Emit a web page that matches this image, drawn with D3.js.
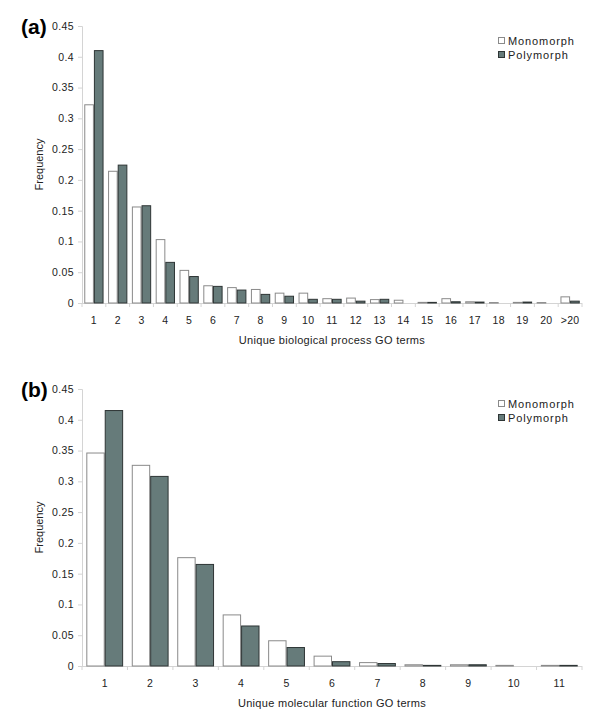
<!DOCTYPE html>
<html>
<head>
<meta charset="utf-8">
<script src="https://cdn.jsdelivr.net/npm/d3@7"></script>
<style>
  html, body { margin: 0; padding: 0; background: #fff; }
  svg { display: block; font-family: "Liberation Sans", Arial, Helvetica, sans-serif; }
</style>
</head>
<body>
<svg id="chart" width="600" height="726"></svg>
<script>
// ---- Data ----
const seriesNames = ["Monomorph", "Polymorph"];
const yTicks = [0, 0.05, 0.1, 0.15, 0.2, 0.25, 0.3, 0.35, 0.4, 0.45];

const bpCategories = ["1","2","3","4","5","6","7","8","9","10","11","12","13","14","15","16","17","18","19","20",">20"];
const bpMonomorph = [0.322, 0.214, 0.156, 0.103, 0.053, 0.028, 0.025, 0.022, 0.016, 0.016, 0.007, 0.008, 0.0055, 0.0045, 0.001, 0.007, 0.002, 0.0007, 0.001, 0.0007, 0.010];
const bpPolymorph = [0.410, 0.224, 0.158, 0.066, 0.043, 0.027, 0.021, 0.014, 0.011, 0.006, 0.006, 0.003, 0.006, 0, 0.001, 0.002, 0.0015, 0, 0.0015, 0, 0.003];

const mfCategories = ["1","2","3","4","5","6","7","8","9","10","11"];
const mfMonomorph = [0.346, 0.326, 0.176, 0.083, 0.041, 0.016, 0.0055, 0.002, 0.002, 0.001, 0.001];
const mfPolymorph = [0.415, 0.308, 0.165, 0.065, 0.030, 0.007, 0.004, 0.001, 0.002, 0, 0.001];

// ---- Styles ----
const fills = { Monomorph: "#ffffff", Polymorph: "#667b7a" };
const strokes = { Monomorph: "#8a8a8a", Polymorph: "#2e3535" };
const axisColor = "#d4d4d4";
const textColor = "#222";

const svg = d3.select("#chart");

function drawPanel(opts) {
  const { label, categories, mono, poly, xTitle, top, bottom, left, right } = opts;
  const g = svg.append("g");

  const x0 = d3.scaleBand().domain(categories).range([left, right])
    .paddingInner(0.19).paddingOuter(0.095);
  const x1 = d3.scaleBand().domain(seriesNames).range([0, x0.bandwidth()]);
  const y = d3.scaleLinear().domain([0, 0.45]).range([bottom, top]);

  // Y axis
  const yAxis = d3.axisLeft(y).tickValues(yTicks).tickSize(4).tickPadding(4)
    .tickFormat(d => String(+d.toFixed(2)));
  const ya = g.append("g").attr("transform", `translate(${left},0)`).call(yAxis);
  ya.select(".domain").attr("stroke", axisColor);
  ya.selectAll(".tick line").attr("stroke", axisColor);
  ya.selectAll(".tick text").attr("fill", textColor).attr("font-size", 10.5)
    .style("letter-spacing", "0.4px");

  // X axis: baseline with ticks between groups
  g.append("line").attr("x1", left).attr("x2", right)
    .attr("y1", bottom + 0.5).attr("y2", bottom + 0.5)
    .attr("stroke", axisColor);
  const step = x0.step();
  const boundaries = categories.map(c => x0(c) - x0.paddingInner() * step / 2).concat([right]);
  g.selectAll(".xb").data(boundaries).enter().append("line")
    .attr("x1", d => d).attr("x2", d => d)
    .attr("y1", bottom).attr("y2", bottom + 4)
    .attr("stroke", axisColor);
  g.selectAll(".xl").data(categories).enter().append("text")
    .attr("x", d => x0(d) + x0.bandwidth() / 2)
    .attr("y", bottom + 21)
    .attr("text-anchor", "middle")
    .attr("font-size", 10.5).attr("fill", textColor)
    .style("letter-spacing", "0.3px")
    .text(d => d);

  // Bars
  const rows = categories.map((c, i) => ({ c, vals: [
    { s: "Monomorph", v: mono[i] }, { s: "Polymorph", v: poly[i] }] }));
  const grp = g.selectAll(".grp").data(rows).enter().append("g")
    .attr("transform", d => `translate(${x0(d.c)},0)`);
  grp.selectAll("rect").data(d => d.vals.filter(e => e.v > 0)).enter().append("rect")
    .attr("x", d => x1(d.s) + 0.5)
    .attr("width", x1.bandwidth() - 1)
    .attr("y", d => y(d.v))
    .attr("height", d => Math.max(0.5, bottom - y(d.v)))
    .attr("fill", d => fills[d.s])
    .attr("stroke", d => strokes[d.s])
    .attr("stroke-width", 1);

  // Axis titles
  g.append("text")
    .attr("transform", `translate(${left - 39},${(top + bottom) / 2}) rotate(-90)`)
    .attr("text-anchor", "middle").attr("font-size", 11).attr("fill", textColor)
    .text("Frequency");
  g.append("text")
    .attr("x", (left + right) / 2).attr("y", bottom + 41)
    .attr("text-anchor", "middle").attr("font-size", 11).attr("fill", textColor)
    .style("letter-spacing", "0.3px")
    .text(xTitle);

  // Panel label
  g.append("text").attr("x", 21).attr("y", top + 8)
    .attr("font-size", 21).attr("font-weight", "bold").attr("fill", "#000")
    .text(label);

  // Legend
  const lg = g.append("g").attr("transform", `translate(498,${top + 15})`);
  seriesNames.forEach((s, i) => {
    lg.append("rect").attr("x", 0.5).attr("y", i * 14 - 3.5).attr("width", 6).attr("height", 6)
      .attr("fill", fills[s]).attr("stroke", strokes[s]);
    lg.append("text").attr("x", 10).attr("y", i * 14 + 4)
      .attr("font-size", 11).attr("fill", textColor)
      .style("letter-spacing", "0.9px")
      .text(s);
  });
}

drawPanel({ label: "(a)", categories: bpCategories, mono: bpMonomorph, poly: bpPolymorph,
  xTitle: "Unique biological process GO terms", top: 26, bottom: 303, left: 82, right: 582 });
drawPanel({ label: "(b)", categories: mfCategories, mono: mfMonomorph, poly: mfPolymorph,
  xTitle: "Unique molecular function GO terms", top: 389, bottom: 666, left: 82, right: 582 });
</script>
</body>
</html>
